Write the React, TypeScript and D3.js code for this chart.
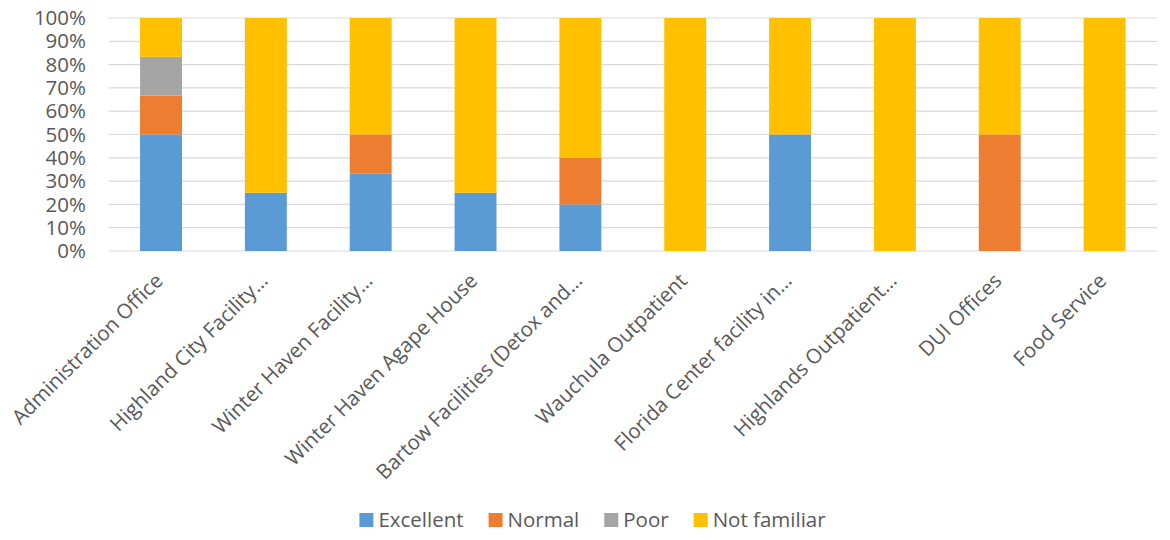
import React from "react";
import * as d3 from "d3";

const categories = [
  "Administration Office",
  "Highland City Facility…",
  "Winter Haven Facility…",
  "Winter Haven Agape House",
  "Bartow Facilities (Detox and…",
  "Wauchula Outpatient",
  "Florida Center facility in…",
  "Highlands Outpatient…",
  "DUI Offices",
  "Food Service",
];

const seriesNames = ["Excellent", "Normal", "Poor", "Not familiar"];
const seriesColors = ["#5b9bd5", "#ed7d31", "#a5a5a5", "#ffc000"];

const excellent = [50, 25, 33.33, 25, 20, 0, 50, 0, 0, 0];
const normal = [16.67, 0, 16.67, 0, 20, 0, 0, 0, 50, 0];
const poor = [16.67, 0, 0, 0, 0, 0, 0, 0, 0, 0];
const notFamiliar = [16.66, 75, 50, 75, 60, 100, 50, 100, 50, 100];

const yTicks = [0, 10, 20, 30, 40, 50, 60, 70, 80, 90, 100];

const W = 1170;
const H = 540;
const FONT = "'Open Sans', sans-serif";
const TEXT = "#595959";

function measure(text: string, size: number): number {
  const c = document.createElement("canvas").getContext("2d");
  if (!c) return text.length * size * 0.5;
  c.font = `${size}px 'Open Sans'`;
  return c.measureText(text).width;
}

export default function App() {
  const margin = { left: 108.6, right: W - 1157, top: 18, bottom: H - 251 };
  const x = d3
    .scaleBand<string>()
    .domain(categories)
    .range([margin.left, W - margin.right])
    .paddingInner(0.6)
    .paddingOuter(0.3);
  const y = d3.scaleLinear().domain([0, 100]).range([H - margin.bottom, margin.top]);

  const rows = categories.map((c, i) => ({
    cat: c,
    Excellent: excellent[i],
    Normal: normal[i],
    Poor: poor[i],
    "Not familiar": notFamiliar[i],
  }));
  const stacked = d3.stack<any>().keys(seriesNames)(rows);

  const fs = 20.5;
  const sq = 14;
  const legendItems: { name: string; color: string; x: number }[] = [];
  const widths = seriesNames.map((n) => measure(n, fs));
  const total = widths.reduce((a, w) => a + sq + 5 + w, 0) + 25 * (seriesNames.length - 1);
  let lx = 592.5 - total / 2;
  seriesNames.forEach((n, i) => {
    legendItems.push({ name: n, color: seriesColors[i], x: lx });
    lx += sq + 5 + widths[i] + 25;
  });
  const legendY = 520;

  return (
    <svg
      width={W}
      height={H}
      style={{ position: "absolute", left: 0, top: 0, background: "#fff" }}
      fontFamily={FONT}
    >
      {yTicks.map((t) => (
        <g key={t}>
          <line
            x1={margin.left}
            x2={W - margin.right}
            y1={y(t)}
            y2={y(t)}
            stroke="#d9d9d9"
            strokeWidth={1.2}
          />
          <text
            x={86}
            y={y(t)}
            dy="0.35em"
            textAnchor="end"
            fontSize={fs}
            fill={TEXT}
          >
            {t}%
          </text>
        </g>
      ))}
      {stacked.map((s, si) => (
        <g key={s.key} fill={seriesColors[si]}>
          {s.map((d, i) => {
            const h = y(d[0]) - y(d[1]);
            if (h <= 0) return null;
            return (
              <rect
                key={i}
                x={x(categories[i])}
                y={y(d[1])}
                width={x.bandwidth()}
                height={h}
              />
            );
          })}
        </g>
      ))}
      {categories.map((c) => {
        const cx = (x(c) as number) + x.bandwidth() / 2;
        return (
          <text
            key={c}
            transform={`translate(${cx - 2},${277}) rotate(-45)`}
            textAnchor="end"
            dy="0.35em"
            fontSize={fs}
            fill={TEXT}
          >
            {c}
          </text>
        );
      })}
      {legendItems.map((l) => (
        <g key={l.name}>
          <rect x={l.x} y={legendY - sq / 2} width={sq} height={sq} fill={l.color} />
          <text x={l.x + sq + 5} y={legendY} dy="0.35em" fontSize={fs} fill={TEXT}>
            {l.name}
          </text>
        </g>
      ))}
    </svg>
  );
}
